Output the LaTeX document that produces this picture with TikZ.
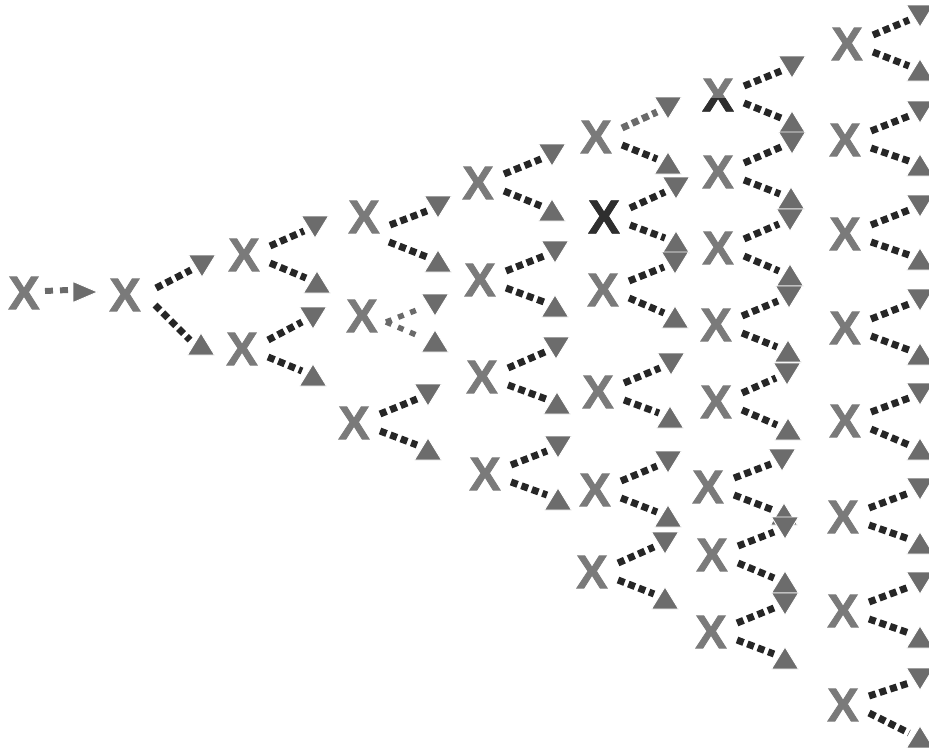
\documentclass[tikz,border=0pt]{standalone}
\usepackage{fontspec}
\setmainfont{Liberation Sans}
\newfontfamily\xfont{Liberation Sans Bold}[FakeBold=1.6]
\usetikzlibrary{calc}
\definecolor{xgray}{HTML}{7A7A7A}
\definecolor{xdark}{HTML}{2E2E2E}
\definecolor{trigray}{HTML}{6C6C6C}
\definecolor{dotdark}{HTML}{262626}
\definecolor{dotlight}{HTML}{6A6A6A}
\tikzset{
  xn/.style={inner sep=0pt, text=xgray, font=\xfont\fontsize{47}{47}\selectfont},
  tri/.style={fill=trigray, draw=white, line width=0.9pt},
  dots/.style={draw=dotdark, line width=7pt, dash pattern=on 7pt off 4.1pt},
  lightdots/.style={draw=dotlight, line width=5.5pt, dash pattern=on 6pt off 7pt},
  greydots/.style={draw=dotlight},
  plain/.style={}
}
% name, x, y, upper triangle x, y, lower triangle x, y, style of upper connector
\newcommand\xbr[8]{%
  \node[xn] (#1) at (#2,#3) {X};
  \coordinate (#1u) at (#4,#5);
  \coordinate (#1l) at (#6,#7);
  \draw[dots,#8] ($(#1)+(26,-9)$) -- ($(#1u)+(-11,4)$);
  \draw[dots] ($(#1)+(26,8)$) -- ($(#1l)+(-11,-4)$);
  \fill[tri] ($(#1u)+(-13.5,-11)$) -- ($(#1u)+(13.5,-11)$) -- ($(#1u)+(0,11)$) -- cycle;
  \fill[tri] ($(#1l)+(-13.5,11)$) -- ($(#1l)+(13.5,11)$) -- ($(#1l)+(0,-11)$) -- cycle;
}
\begin{document}
\begin{tikzpicture}[x=1pt,y=-1pt]
\useasboundingbox (0,0) rectangle (929,747);
% column 0
\node[xn] (a) at (24,293) {X};
\coordinate (ar) at (85,292);
\draw[lightdots, line width=6pt, dash pattern=on 8pt off 7pt] ($(a)+(21,-2)$) -- ($(ar)+(-17,-2)$);
\fill[tri] ($(ar)+(-12,-10.5)$) -- ($(ar)+(12.5,0)$) -- ($(ar)+(-12,10.5)$) -- cycle;
% column 1
\node[xn] (b) at (125,295) {X};
\coordinate (bu) at (202,266);
\coordinate (bl) at (201,344);
\draw[dots] ($(b)+(31,-7)$) -- ($(bu)+(-11,4)$);
\draw[dots] ($(b)+(30,10)$) -- ($(bl)+(-11,-4)$);
\fill[tri] ($(bu)+(-13.5,-11)$) -- ($(bu)+(13.5,-11)$) -- ($(bu)+(0,11)$) -- cycle;
\fill[tri] ($(bl)+(-13.5,11)$) -- ($(bl)+(13.5,11)$) -- ($(bl)+(0,-11)$) -- cycle;
% column 2
\xbr{c1}{244}{255}{315}{227}{317}{282}{plain}
\xbr{c2}{242}{349}{313}{318}{313}{375}{plain}
% column 3
\node[xn] (d1) at (364,217) {X};
\coordinate (d1u) at (438,207);
\coordinate (d1l) at (438,261);
\draw[dots] ($(d1)+(26,8)$) -- ($(d1u)+(-11,4)$);
\draw[dots] ($(d1)+(25,25)$) -- ($(d1l)+(-11,-4)$);
\fill[tri] ($(d1u)+(-13.5,-11)$) -- ($(d1u)+(13.5,-11)$) -- ($(d1u)+(0,11)$) -- cycle;
\fill[tri] ($(d1l)+(-13.5,11)$) -- ($(d1l)+(13.5,11)$) -- ($(d1l)+(0,-11)$) -- cycle;
\node[xn] (d2) at (362,316) {X};
\coordinate (d2u) at (435,305);
\coordinate (d2l) at (435,341);
\draw[lightdots] ($(d2)+(24,6)$) -- ($(d2u)+(-13,3)$);
\draw[lightdots] ($(d2)+(24,6)$) -- ($(d2l)+(-14,-4)$);
\fill[tri] ($(d2u)+(-13.5,-11)$) -- ($(d2u)+(13.5,-11)$) -- ($(d2u)+(0,11)$) -- cycle;
\fill[tri] ($(d2l)+(-13.5,11)$) -- ($(d2l)+(13.5,11)$) -- ($(d2l)+(0,-11)$) -- cycle;
\xbr{d3}{354}{423}{428}{395}{428}{449}{plain}
% column 4
\xbr{e1}{478}{183}{552}{155}{552}{210}{plain}
\xbr{e2}{480}{280}{555}{252}{555}{306}{plain}
\xbr{e3}{482}{377}{556}{348}{557}{403}{plain}
\xbr{e4}{485}{474}{558}{447}{558}{499}{plain}
% column 5
\xbr{f1}{596}{137}{668}{108}{668}{163}{greydots}
\xbr{f2}{604}{217}{676}{188}{676}{242}{plain}
\node[xn, text=xdark] (f2k) at (f2) {X};
\xbr{f3}{603}{290}{675}{263}{675}{317}{plain}
\xbr{f4}{598}{392}{671}{364}{670}{417}{plain}
\xbr{f5}{595}{490}{668}{462}{668}{516}{plain}
\xbr{f6}{592}{572}{665}{543}{665}{598}{plain}
% column 6
\xbr{g1}{718}{95}{792}{67}{792}{122}{plain}
\begin{scope}
  \clip (690,98) rectangle (745,120);
  \node[xn, text=xdark] (g1k) at (g1) {X};
\end{scope}
\xbr{g2}{718}{172}{792}{143}{791}{198}{plain}
\xbr{g3}{718}{248}{790}{220}{790}{275}{plain}
\xbr{g4}{716}{325}{789}{297}{788}{351}{plain}
\xbr{g5}{716}{402}{787}{374}{788}{429}{plain}
\xbr{g6}{708}{487}{782}{460}{784}{514}{plain}
\xbr{g7}{712}{555}{785}{528}{785}{582}{plain}
\xbr{g8}{711}{632}{785}{604}{785}{658}{plain}
% column 7
\xbr{h1}{847}{44}{920}{16}{920}{70}{plain}
\xbr{h2}{845}{140}{920}{112}{920}{165}{plain}
\xbr{h3}{845}{234}{920}{206}{920}{259}{plain}
\xbr{h4}{845}{328}{920}{300}{920}{354}{plain}
\xbr{h5}{845}{421}{920}{394}{920}{449}{plain}
\xbr{h6}{843}{517}{920}{489}{920}{543}{plain}
\xbr{h7}{843}{611}{920}{583}{920}{637}{plain}
\xbr{h8}{843}{705}{920}{679}{920}{737}{plain}
\end{tikzpicture}
\end{document}
